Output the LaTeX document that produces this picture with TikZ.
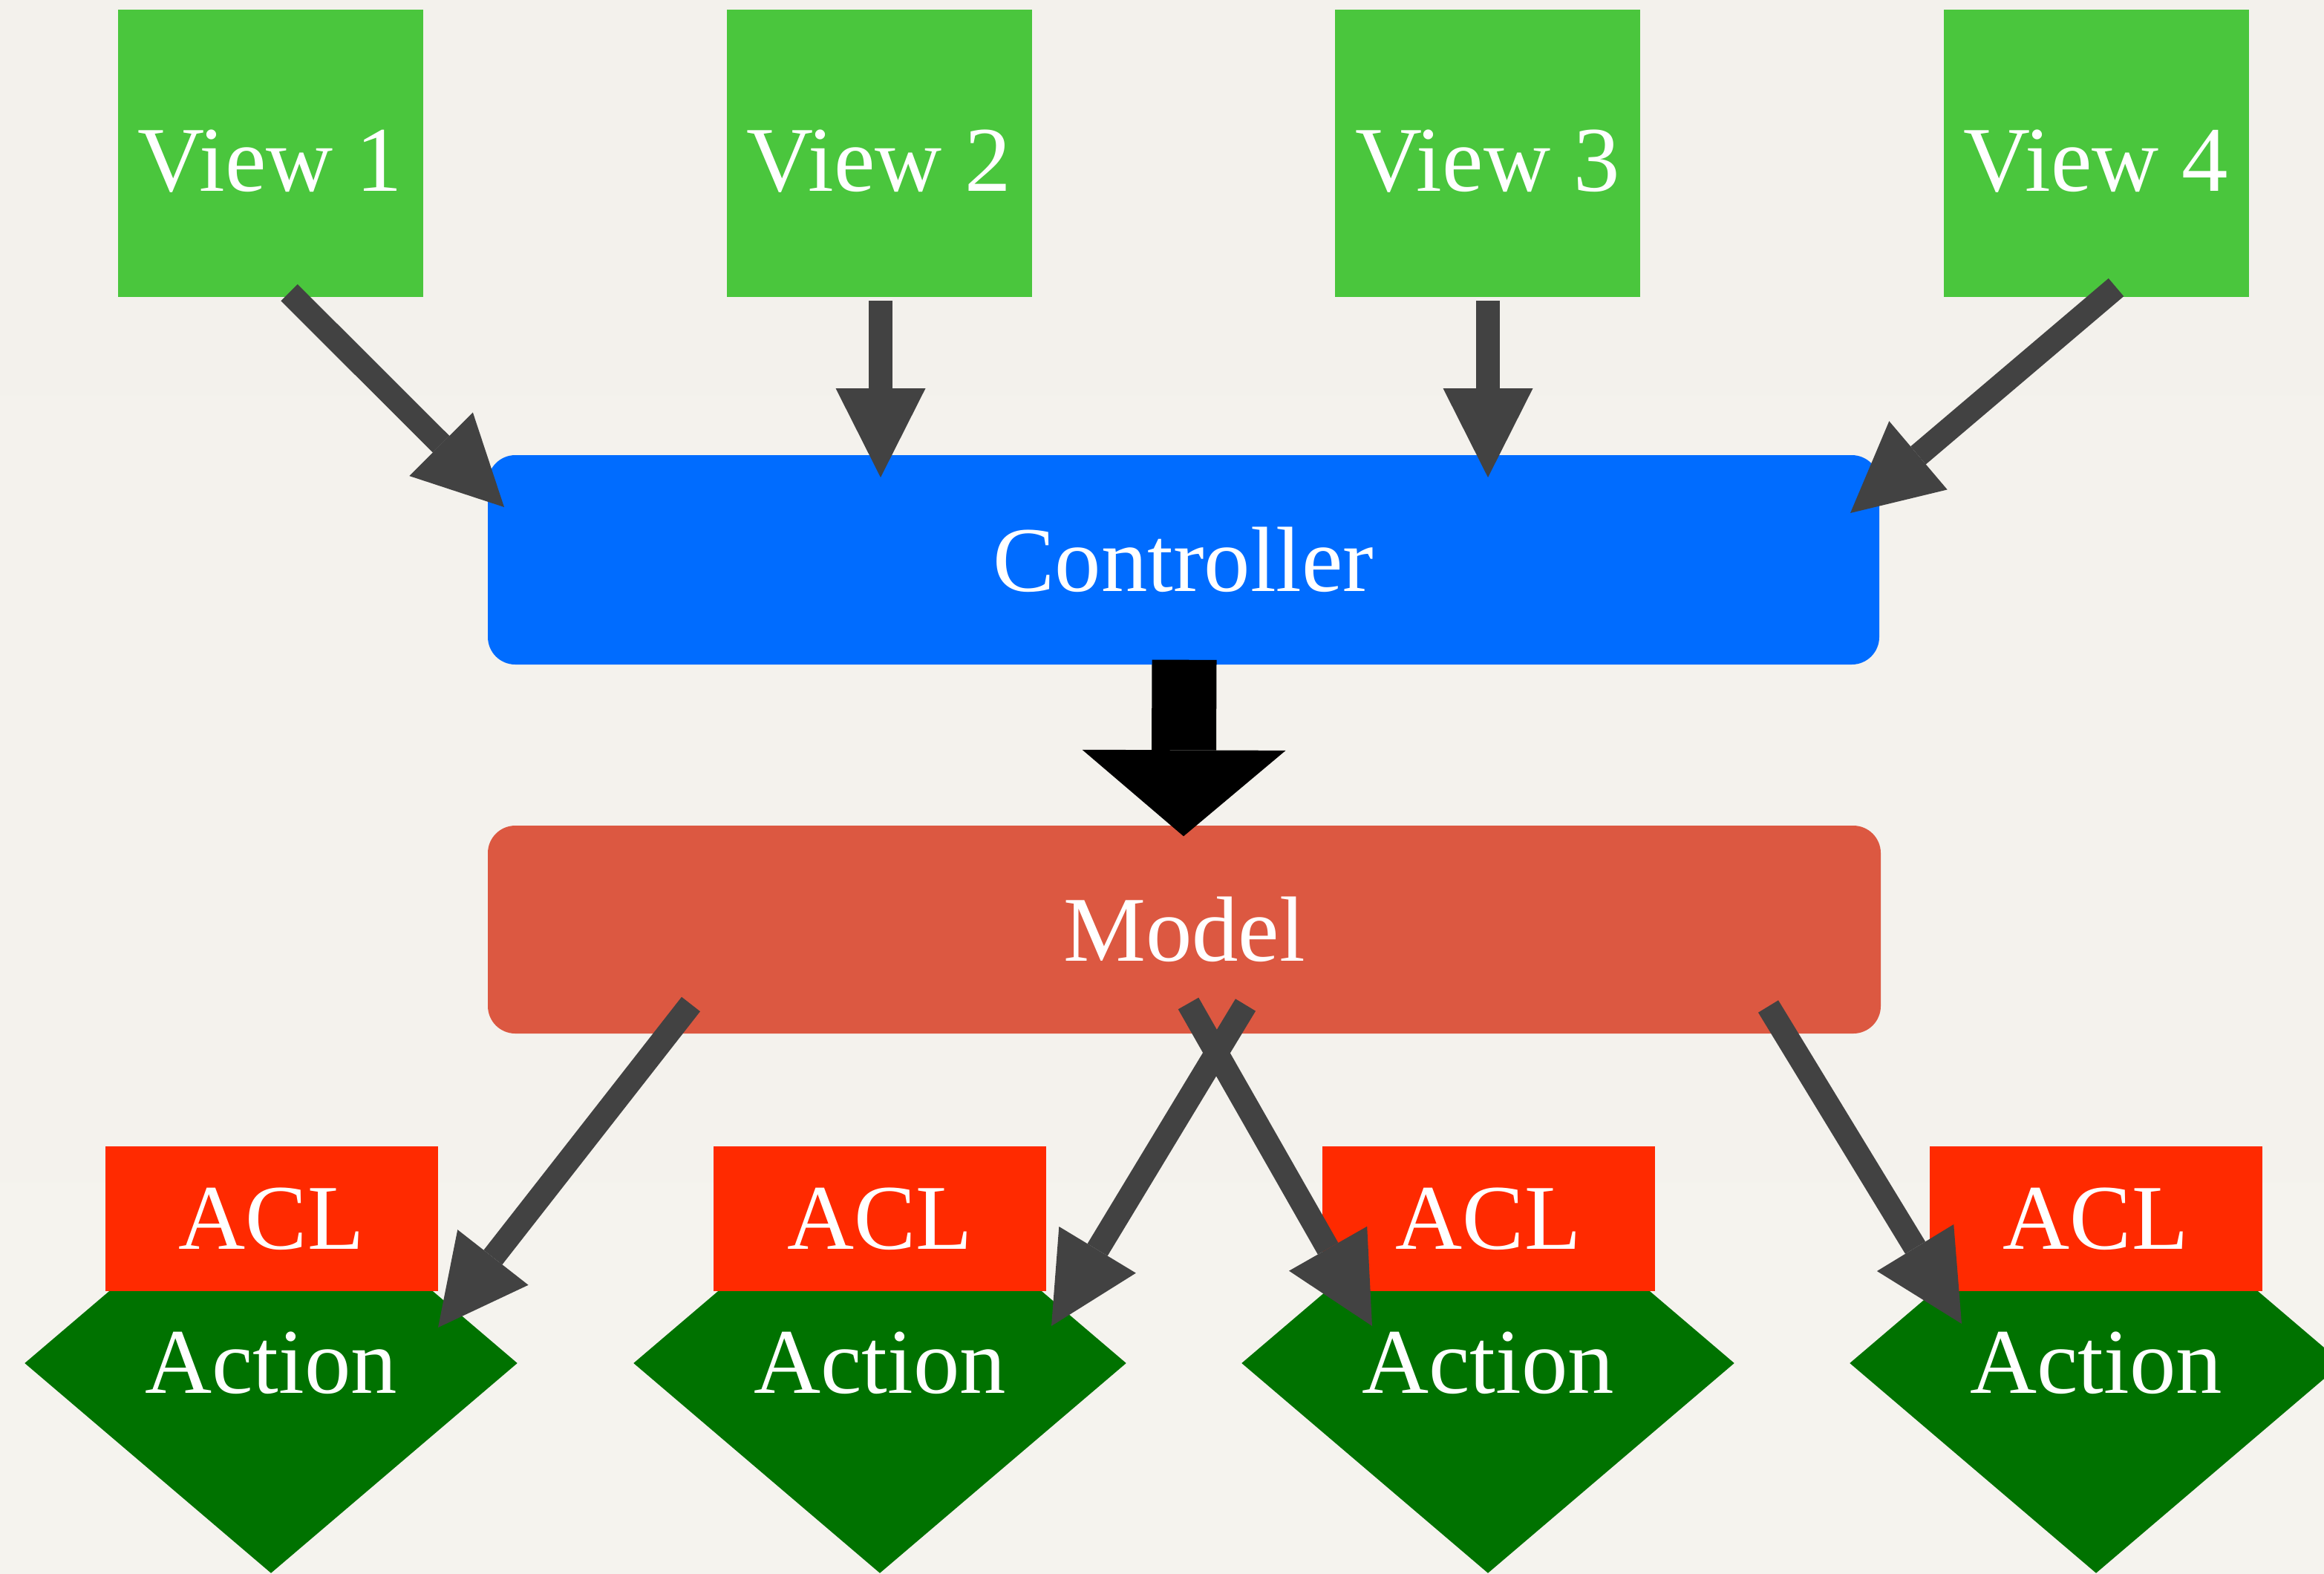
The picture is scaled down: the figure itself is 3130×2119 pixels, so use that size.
\documentclass[tikz,border=0pt]{standalone}
\usepackage{fontspec}
\setmainfont{Liberation Serif}
\usetikzlibrary{arrows.meta,shapes.geometric}
\definecolor{viewgreen}{RGB}{74,198,61}
\definecolor{ctrlblue}{RGB}{0,108,255}
\definecolor{modelred}{RGB}{220,88,65}
\definecolor{aclred}{RGB}{255,42,0}
\definecolor{actgreen}{RGB}{0,114,0}
\definecolor{arrowgray}{RGB}{66,66,66}
\definecolor{bgtop}{RGB}{243,241,236}
\definecolor{bgmid}{RGB}{228,225,219}
\definecolor{bgbot}{RGB}{245,243,238}
\begin{document}
\begin{tikzpicture}[x=0.1mm,y=-0.1mm,
  lbl/.style={text=white,font=\fontsize{35.5}{42}\selectfont,inner sep=0pt},
  viewbox/.style={lbl,fill=viewgreen,minimum width=41.1mm,minimum height=38.7mm,text height=10.1mm,text depth=0mm},
  ctrlbox/.style={lbl,fill=ctrlblue,rounded corners=3.7mm,minimum width=187.4mm,minimum height=28.2mm},
  modelbox/.style={lbl,fill=modelred,rounded corners=3.7mm,minimum width=187.6mm,minimum height=28mm},
  aclbox/.style={lbl,fill=aclred,minimum width=44.8mm,minimum height=19.5mm},
  actshape/.style={lbl,diamond,fill=actgreen,aspect=1.173,minimum width=66.4mm,minimum height=56.6mm},
  garrow/.style={draw=arrowgray,line width=3.17mm,-{Triangle[width=12.1mm,length=12mm,line width=0pt]}},
  barrow/.style={draw=black,line width=8.7mm,-{Triangle[width=27.4mm,length=11.6mm,line width=0pt]}}
]
\useasboundingbox (0,0) rectangle (3130,2119);
\shade[top color=bgtop,middle color=bgmid,bottom color=bgbot] (0,0) rectangle (3130,2119);

% views
\node[viewbox] (v1) at (364,206.5) {View 1};
\node[viewbox] (v2) at (1184,206.5) {View 2};
\node[viewbox] (v3) at (2003.5,206.5) {View 3};
\node[viewbox] (v4) at (2823,206.5) {View 4};

% controller and model
\node[ctrlbox] (ctrl) at (1594,754) {Controller};
\node[modelbox] (model) at (1595,1252) {Model};

% actions
\node[actshape] (a1) at (365,1836) {Action};
\node[actshape] (a2) at (1185,1836) {Action};
\node[actshape] (a3) at (2004,1836) {Action};
\node[actshape] (a4) at (2823,1836) {Action};

% ACL boxes
\node[aclbox] (c1) at (365.5,1641.5) {ACL};
\node[aclbox] (c2) at (1185,1641.5) {ACL};
\node[aclbox] (c3) at (2004.5,1641.5) {ACL};
\node[aclbox] (c4) at (2822.5,1641.5) {ACL};

% arrows views -> controller
\draw[garrow] ([shift={(25.5,187.5)}]v1.center) -- ([shift={(-915,-71)}]ctrl.center);
\draw[garrow] ([shift={(2,198.5)}]v2.center) -- ([shift={(-408,-111)}]ctrl.center);
\draw[garrow] ([shift={(0.5,198.5)}]v3.center) -- ([shift={(410,-111)}]ctrl.center);
\draw[garrow] ([shift={(27,180.5)}]v4.center) -- ([shift={(898,-63)}]ctrl.center);

% controller -> model
\draw[barrow] ([shift={(1,-7)}]ctrl.south) -- ([shift={(-1,15)}]model.north);

% model -> actions
\draw[garrow] ([shift={(-664.5,100.5)}]model.center) -- ([shift={(225,-48)}]a1.center);
\draw[garrow] ([shift={(82.5,101.5)}]model.center) -- ([shift={(231,-50)}]a2.center);
\draw[garrow] ([shift={(5.5,99.5)}]model.center) -- ([shift={(-156,-50)}]a3.center);
\draw[garrow] ([shift={(786.5,103.5)}]model.center) -- ([shift={(-181,-53)}]a4.center);
\end{tikzpicture}
\end{document}
